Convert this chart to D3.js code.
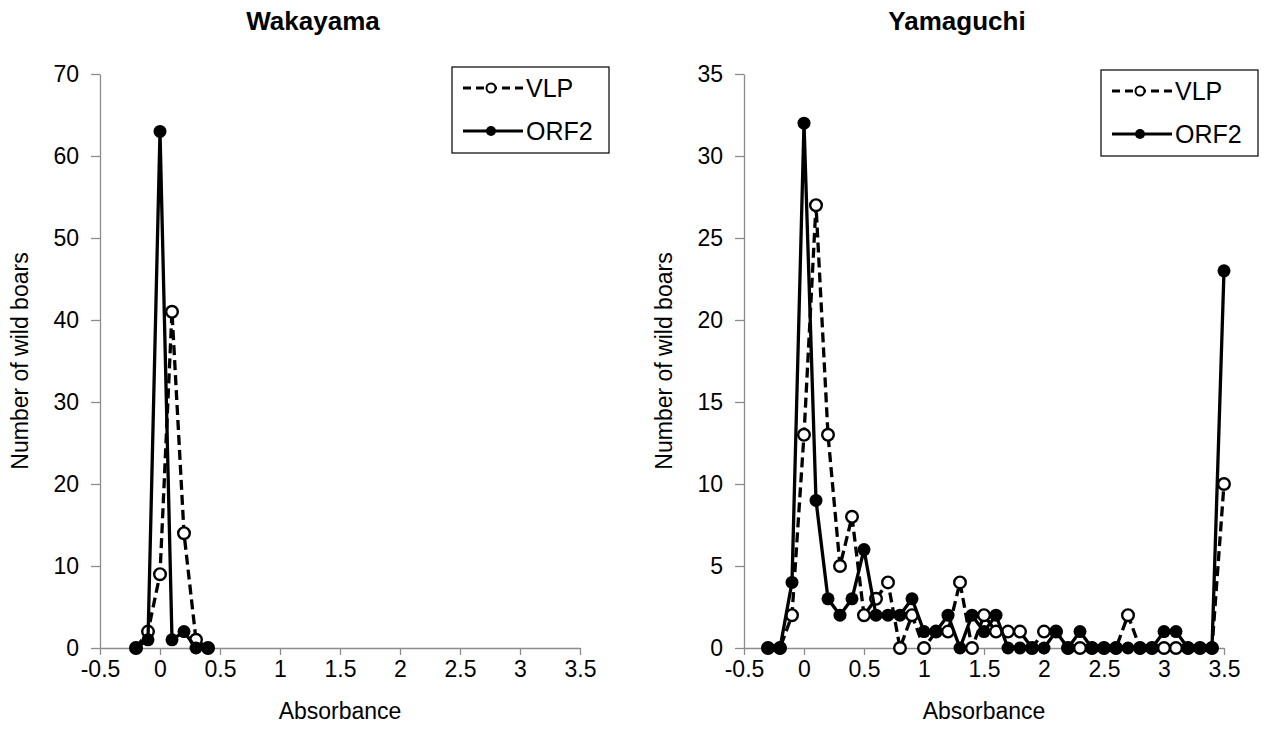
<!DOCTYPE html>
<html><head><meta charset="utf-8">
<script src="https://cdn.jsdelivr.net/npm/d3@7"></script>
<style>
body{margin:0;background:#fff;}
text{font-family:"Liberation Sans",Arial,sans-serif;fill:#000;}
</style></head>
<body><svg id="c" width="1269" height="738"></svg>
<script>
// ---- data ----
const xTicks = [-0.5, 0, 0.5, 1, 1.5, 2, 2.5, 3, 3.5];
const wakAbs  = [-0.2, -0.1, 0, 0.1, 0.2, 0.3, 0.4];
const wakVLP  = [0, 2, 9, 41, 14, 1, 0];
const wakORF2 = [0, 1, 63, 1, 2, 0, 0];
const wakYTicks = [0, 10, 20, 30, 40, 50, 60, 70];

const yamAbs = [-0.3,-0.2,-0.1,0,0.1,0.2,0.3,0.4,0.5,0.6,0.7,0.8,0.9,1.0,1.1,1.2,1.3,1.4,1.5,1.6,1.7,1.8,1.9,2.0,2.1,2.2,2.3,2.4,2.5,2.6,2.7,2.8,2.9,3.0,3.1,3.2,3.3,3.4,3.5];
const yamVLP  = [0,0,2,13,27,13,5,8,2,3,4,0,2,0,1,1,4,0,2,1,1,1,0,1,1,0,0,0,0,0,2,0,0,0,0,0,0,0,10];
const yamORF2 = [0,0,4,32,9,3,2,3,6,2,2,2,3,1,1,2,0,2,1,2,0,0,0,0,1,0,1,0,0,0,0,0,0,1,1,0,0,0,23];
const yamYTicks = [0, 5, 10, 15, 20, 25, 30, 35];

const seriesNames = ["VLP", "ORF2"];
const titles = ["Wakayama", "Yamaguchi"];
const xTitle = "Absorbance";
const yTitle = "Number of wild boars";

const svg = d3.select("#c");
const axisColor = "#8c8c8c";

function panel(cfg){
  const g = svg.append("g");
  const x = d3.scaleLinear().domain([-0.5, 3.5]).range([cfg.x0, cfg.x0 + 480]);
  const y = d3.scaleLinear().domain([0, cfg.yMax]).range([648, 74]);

  // axes
  const xa = g.append("g").attr("transform", "translate(0,648)")
    .call(d3.axisBottom(x).tickValues(xTicks).tickSize(7).tickSizeOuter(0).tickPadding(6).tickFormat(d => String(d)));
  const ya = g.append("g").attr("transform", `translate(${cfg.x0},0)`)
    .call(d3.axisLeft(y).tickValues(cfg.yTicks).tickSize(9).tickSizeOuter(0).tickPadding(12).tickFormat(d => String(d)));
  [xa, ya].forEach(a => {
    a.select(".domain").attr("stroke", axisColor).attr("stroke-width", 1.3);
    a.selectAll(".tick line").attr("stroke", axisColor).attr("stroke-width", 1.3);
    a.selectAll(".tick text").attr("font-size", 23).attr("font-family", "Liberation Sans, Arial, sans-serif").attr("fill", "#000");
  });

  // titles
  g.append("text").attr("x", cfg.x0 + 213).attr("y", 30).attr("text-anchor", "middle")
    .attr("font-size", 26).attr("font-weight", "bold").text(cfg.title);
  g.append("text").attr("x", cfg.x0 + 240).attr("y", 719).attr("text-anchor", "middle")
    .attr("font-size", 23).text(xTitle);
  g.append("text").attr("transform", `translate(${cfg.x0 - 72},361) rotate(-90)`).attr("text-anchor", "middle")
    .attr("font-size", 23).text(yTitle);

  const pts = (xs, ys) => xs.map((v, i) => [v, ys[i]]);
  const line = d3.line().x(d => x(d[0])).y(d => y(d[1]));
  const vlp = pts(cfg.xs, cfg.vlp), orf = pts(cfg.xs, cfg.orf);

  // VLP (dashed, open markers)
  g.append("path").datum(vlp).attr("d", line).attr("fill", "none").attr("stroke", "#000")
    .attr("stroke-width", 3.3).attr("stroke-dasharray", "10,5");
  g.selectAll(".vm").data(vlp).enter().append("circle")
    .attr("cx", d => x(d[0])).attr("cy", d => y(d[1])).attr("r", 5.8)
    .attr("fill", "#fff").attr("stroke", "#000").attr("stroke-width", 2.4);
  // ORF2 (solid, filled markers)
  g.append("path").datum(orf).attr("d", line).attr("fill", "none").attr("stroke", "#000")
    .attr("stroke-width", 3.3);
  g.selectAll(".om").data(orf).enter().append("circle")
    .attr("cx", d => x(d[0])).attr("cy", d => y(d[1])).attr("r", 6.5).attr("fill", "#000");

  // legend
  const L = cfg.legend;
  g.append("rect").attr("x", L.x).attr("y", L.y).attr("width", 157).attr("height", 86)
    .attr("fill", "#fff").attr("stroke", "#000").attr("stroke-width", 1.2);
  const rows = [{name: seriesNames[0], dash: "8,5", open: true, dy: 21}, {name: seriesNames[1], dash: null, open: false, dy: 64}];
  rows.forEach(r => {
    const yy = L.y + r.dy;
    g.append("line").attr("x1", L.x + 11).attr("x2", L.x + 71).attr("y1", yy).attr("y2", yy)
      .attr("stroke", "#000").attr("stroke-width", 3).attr("stroke-dasharray", r.dash);
    g.append("circle").attr("cx", L.x + 39).attr("cy", yy).attr("r", r.open ? 4.5 : 5)
      .attr("fill", r.open ? "#fff" : "#000").attr("stroke", "#000").attr("stroke-width", r.open ? 2 : 0);
    g.append("text").attr("x", L.x + 74).attr("y", yy + 9).attr("font-size", 25).text(r.name);
  });
}

panel({x0: 100, yMax: 70, yTicks: wakYTicks, title: titles[0], xs: wakAbs, vlp: wakVLP, orf: wakORF2, legend: {x: 452, y: 67}});
panel({x0: 744, yMax: 35, yTicks: yamYTicks, title: titles[1], xs: yamAbs, vlp: yamVLP, orf: yamORF2, legend: {x: 1101, y: 70}});
</script></body></html>
